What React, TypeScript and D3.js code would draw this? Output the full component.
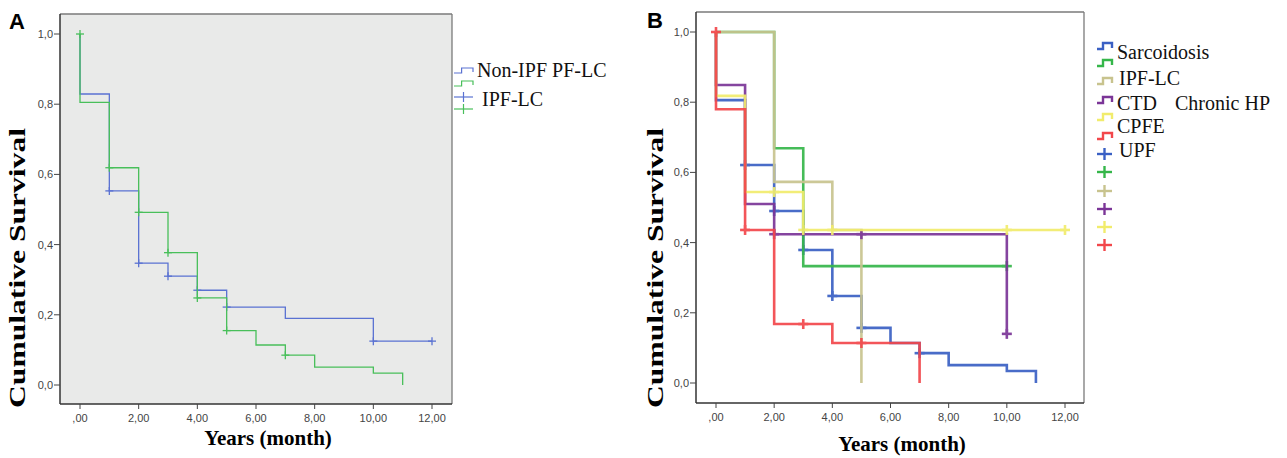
import React from "react";
import * as d3 from "d3";

// ---------- Data ----------
const xTickValues = [0, 2, 4, 6, 8, 10, 12];
const xTickLabels = [",00", "2,00", "4,00", "6,00", "8,00", "10,00", "12,00"];
const yTickValues = [0, 0.2, 0.4, 0.6, 0.8, 1.0];
const yTickLabels = ["0,0", "0,2", "0,4", "0,6", "0,8", "1,0"];

// Panel A: [time, survival after drop]
const aNonIpfSteps = [[0, 0.829], [1, 0.553], [2, 0.347], [3, 0.31], [4, 0.27], [5, 0.222], [7, 0.19], [10, 0.125]];
const aNonIpfEnd = 12;
const aNonIpfCensor = [[1, 0.553], [2, 0.347], [3, 0.31], [4, 0.27], [5, 0.222], [10, 0.125], [12, 0.125]];
const aIpfSteps = [[0, 0.805], [1, 0.619], [2, 0.492], [3, 0.377], [4, 0.248], [5, 0.155], [6, 0.114], [7, 0.085], [8, 0.051], [10, 0.034], [11, 0]];
const aIpfEnd = 11;
const aIpfCensor = [[0, 1], [1, 0.619], [2, 0.492], [3, 0.377], [4, 0.248], [5, 0.155], [7, 0.085]];
const aLegendLabels = ["Non-IPF PF-LC", "IPF-LC"];

// Panel B
const bSarcSteps = [[0, 0.806], [1, 0.621], [2, 0.49], [3, 0.379], [4, 0.248], [5, 0.157], [6, 0.114], [7, 0.085], [8, 0.051], [10, 0.034], [11, 0]];
const bSarcEnd = 11;
const bSarcCensor = [[1, 0.621], [2, 0.49], [3, 0.379], [4, 0.248], [5, 0.157], [7, 0.085]];
const bIpfSteps = [[2, 0.669], [3, 0.333]];
const bIpfEnd = 10;
const bIpfCensor = [[10, 0.333]];
const bTanSteps = [[2, 0.573], [4, 0.436], [5, 0]];
const bTanEnd = 5;
const bTanCensor: number[][] = [];
const bPurpleSteps = [[0, 0.849], [1, 0.51], [2, 0.424], [10, 0.14]];
const bPurpleEnd = 10;
const bPurpleCensor = [[2, 0.424], [5, 0.424], [10, 0.14]];
const bYellowSteps = [[0, 0.818], [1, 0.544], [3, 0.436]];
const bYellowEnd = 12;
const bYellowCensor = [[2, 0.544], [3, 0.436], [4, 0.436], [10, 0.436], [12, 0.436]];
const bRedSteps = [[0, 0.78], [1, 0.436], [2, 0.168], [4, 0.114], [7, 0]];
const bRedEnd = 7;
const bRedCensor = [[0, 1], [1, 0.436], [3, 0.168], [5, 0.114]];
const bLegendLabels = ["Sarcoidosis", "IPF-LC", "CTD", "CPFE", "UPF"];
const bLegendExtra = "Chronic HP";

// ---------- Helpers ----------
function stepPoints(steps: number[][], end: number): [number, number][] {
  const pts: [number, number][] = [[0, 1]];
  let prev = 1;
  for (const [t, s] of steps) {
    pts.push([t, prev]);
    pts.push([t, s]);
    prev = s;
  }
  pts.push([end, prev]);
  return pts;
}

const SANS = "'Liberation Sans', Arial, sans-serif";
const SERIF = "'Liberation Serif', 'Times New Roman', serif";

function Axes({ x, y, left, right, top, bottom, bg }: any) {
  return (
    <g>
      <rect x={left} y={top} width={right - left} height={bottom - top} fill={bg} />
      <line x1={left} y1={top} x2={right} y2={top} stroke="#7a7a7a" strokeWidth={1.3} />
      <line x1={right} y1={top} x2={right} y2={bottom} stroke="#7a7a7a" strokeWidth={1.3} />
      <line x1={left} y1={top} x2={left} y2={bottom} stroke="#333" strokeWidth={1.5} />
      <line x1={left} y1={bottom} x2={right} y2={bottom} stroke="#333" strokeWidth={1.5} />
      {yTickValues.map((v, i) => (
        <g key={"y" + i}>
          <line x1={left - 6} x2={left} y1={y(v)} y2={y(v)} stroke="#444" strokeWidth={1} />
          <text x={left - 7} y={y(v) + 4} textAnchor="end" fontFamily={SANS} fontSize={11} fill="#444">
            {yTickLabels[i]}
          </text>
        </g>
      ))}
      {xTickValues.map((v, i) => (
        <g key={"x" + i}>
          <line x1={x(v)} x2={x(v)} y1={bottom} y2={bottom + 5} stroke="#444" strokeWidth={1} />
          <text x={x(v)} y={bottom + 18} textAnchor="middle" fontFamily={SANS} fontSize={11} fill="#444">
            {xTickLabels[i]}
          </text>
        </g>
      ))}
    </g>
  );
}

function Curve({ x, y, steps, end, censor, color, width, tick, opacity }: any) {
  const line = d3.line<[number, number]>().x((d) => x(d[0])).y((d) => y(d[1]));
  return (
    <g opacity={opacity}>
      <path d={line(stepPoints(steps, end)) || ""} fill="none" stroke={color} strokeWidth={width} />
      {censor.map((c: number[], i: number) => (
        <g key={i} stroke={color} strokeWidth={width}>
          <line x1={x(c[0]) - tick} x2={x(c[0]) + tick} y1={y(c[1])} y2={y(c[1])} />
          <line x1={x(c[0])} x2={x(c[0])} y1={y(c[1]) - tick} y2={y(c[1]) + tick} />
        </g>
      ))}
    </g>
  );
}

function StepSym({ x0, yc, w, h, color, sw }: any) {
  const d = `M${x0},${yc + h / 2} H${x0 + w * 0.4} V${yc - h / 2} H${x0 + w} V${yc + h / 2 - 1}`;
  return <path d={d} fill="none" stroke={color} strokeWidth={sw} />;
}
function PlusSym({ x0, yc, w, h, color, sw }: any) {
  return (
    <g stroke={color} strokeWidth={sw}>
      <line x1={x0} x2={x0 + w} y1={yc} y2={yc} />
      <line x1={x0 + w / 2} x2={x0 + w / 2} y1={yc - h / 2} y2={yc + h / 2} />
    </g>
  );
}

export default function App() {
  // Panel A
  const ax = d3.scaleLinear().domain([0, 12]).range([80, 432]);
  const ay = d3.scaleLinear().domain([0, 1]).range([385, 34]);
  const aBlue = "#5a72d2";
  const aGreen = "#48bf5a";

  // Panel B
  const bx = d3.scaleLinear().domain([0, 12]).range([716, 1065]);
  const by = d3.scaleLinear().domain([0, 1]).range([383, 32]);
  const cBlue = "#3a60c4";
  const cGreen = "#35b64a";
  const cTan = "#c8c38e";
  const cPurple = "#7b3597";
  const cYellow = "#f1ec6c";
  const cRed = "#f2474b";
  const bColors = [cBlue, cGreen, cTan, cPurple, cYellow, cRed];
  const bSeries = [
    { steps: bSarcSteps, end: bSarcEnd, censor: bSarcCensor, color: cBlue },
    { steps: bIpfSteps, end: bIpfEnd, censor: bIpfCensor, color: cGreen },
    { steps: bTanSteps, end: bTanEnd, censor: bTanCensor, color: cTan },
    { steps: bPurpleSteps, end: bPurpleEnd, censor: bPurpleCensor, color: cPurple },
    { steps: bYellowSteps, end: bYellowEnd, censor: bYellowCensor, color: cYellow },
    { steps: bRedSteps, end: bRedEnd, censor: bRedCensor, color: cRed },
  ];
  const bStepY = [46, 63, 81, 100, 117, 136];
  const bPlusY = [154, 172, 191, 209, 227, 245];
  const bTextY = [59, 85, 110, 133, 157];
  const bTextX = [1117, 1119, 1117, 1117, 1119];

  return (
    <svg width={1287} height={458} style={{ position: "absolute", left: 0, top: 0 }}>
      <rect x={0} y={0} width={1287} height={458} fill="#fff" />
      {/* Panel A */}
      <text x={9} y={29} fontFamily={SANS} fontWeight="bold" fontSize={22} fill="#000">A</text>
      <Axes x={ax} y={ay} left={60} right={452} top={14} bottom={404} bg="#e9eae9" />
      <Curve x={ax} y={ay} steps={aNonIpfSteps} end={aNonIpfEnd} censor={aNonIpfCensor} color={aBlue} width={1.3} tick={4} opacity={1} />
      <Curve x={ax} y={ay} steps={aIpfSteps} end={aIpfEnd} censor={aIpfCensor} color={aGreen} width={1.3} tick={4} opacity={1} />
      <StepSym x0={454} yc={70.5} w={19} h={5} color={aBlue} sw={1.2} />
      <StepSym x0={454} yc={83.5} w={19} h={5} color={aGreen} sw={1.2} />
      <PlusSym x0={454} yc={97} w={19} h={10} color={aBlue} sw={1.2} />
      <PlusSym x0={454} yc={109} w={19} h={10} color={aGreen} sw={1.2} />
      <text x={477} y={77} fontFamily={SERIF} fontSize={20} fill="#111">{aLegendLabels[0]}</text>
      <text x={482} y={106} fontFamily={SERIF} fontSize={20} fill="#111">{aLegendLabels[1]}</text>
      <text x={25} y={268} transform="rotate(-90 25 268)" textAnchor="middle" fontFamily={SERIF} fontWeight="bold" fontSize={23} textLength={280} lengthAdjust="spacingAndGlyphs">Cumulative Survival</text>
      <text x={268} y={445} textAnchor="middle" fontFamily={SERIF} fontWeight="bold" fontSize={21}>Years (month)</text>

      {/* Panel B */}
      <text x={647} y={28} fontFamily={SANS} fontWeight="bold" fontSize={22} fill="#000">B</text>
      <Axes x={bx} y={by} left={696} right={1084} top={12} bottom={403} bg="#fff" />
      {bSeries.map((s, i) => (
        <Curve key={i} x={bx} y={by} steps={s.steps} end={s.end} censor={s.censor} color={s.color} width={2.6} tick={5} opacity={0.92} />
      ))}
      {bColors.map((c, i) => (
        <StepSym key={"s" + i} x0={1097} yc={bStepY[i]} w={15} h={6} color={c} sw={2.4} />
      ))}
      {bColors.map((c, i) => (
        <PlusSym key={"p" + i} x0={1097} yc={bPlusY[i]} w={15} h={12} color={c} sw={2.4} />
      ))}
      {bLegendLabels.map((l, i) => (
        <text key={"t" + i} x={bTextX[i]} y={bTextY[i]} fontFamily={SERIF} fontSize={20} fill="#111">{l}</text>
      ))}
      <text x={1175} y={110} fontFamily={SERIF} fontSize={20} fill="#111">{bLegendExtra}</text>
      <text x={663} y={268} transform="rotate(-90 663 268)" textAnchor="middle" fontFamily={SERIF} fontWeight="bold" fontSize={23} textLength={280} lengthAdjust="spacingAndGlyphs">Cumulative Survival</text>
      <text x={902} y={451} textAnchor="middle" fontFamily={SERIF} fontWeight="bold" fontSize={21}>Years (month)</text>
    </svg>
  );
}
